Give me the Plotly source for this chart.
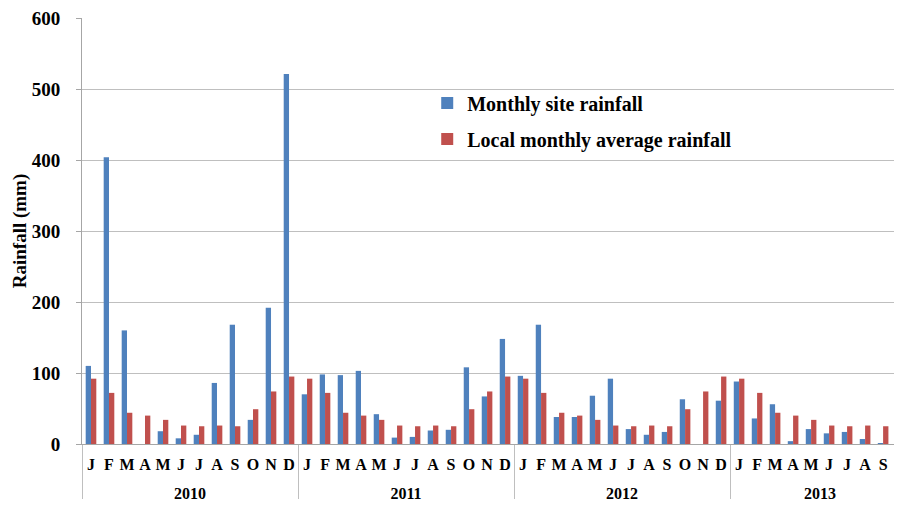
import plotly.graph_objects as go

LBL = 16  # visible size of the category labels


def _month(letter, n):
    # second (blank) line adds height under the month row; differing blank
    # counts keep repeated initials (J, M, A) distinct categories
    return ('<span style="font-size:%dpx">%s</span><br>%s'
            % (LBL, letter, "\u00a0" * n))


def _year(y):
    return '<span style="font-size:%dpx">%s</span>' % (LBL, y)


month_initials = [_month("J", 1), _month("F", 1), _month("M", 1), _month("A", 1),
                  _month("M", 2), _month("J", 2), _month("J", 3), _month("A", 2),
                  _month("S", 1), _month("O", 1), _month("N", 1), _month("D", 1)]

years = ([_year("2010")] * 12 + [_year("2011")] * 12 + [_year("2012")] * 12
         + [_year("2013")] * 10)
months = month_initials * 3 + month_initials[:10]

site_rainfall = [
    110, 404, 160, 0, 18, 8, 13, 86, 168, 34, 192, 521,
    70, 98, 97, 103, 42, 9, 10, 19, 20, 108, 67, 148,
    96, 168, 38, 38, 68, 92, 21, 13, 17, 63, 0, 61,
    88, 36, 56, 4, 21, 15, 17, 7, 1, 38,
]
local_average = [
    92, 72, 44, 40, 34, 26, 25, 26, 25, 49, 74, 95,
    92, 72, 44, 40, 34, 26, 25, 26, 25, 49, 74, 95,
    92, 72, 44, 40, 34, 26, 25, 26, 25, 49, 74, 95,
    92, 72, 44, 40, 34, 26, 25, 26, 25, 49,
]

FONT = "Liberation Serif, Times New Roman, serif"
x = [years, months]

fig = go.Figure()
fig.add_trace(go.Bar(x=x, y=site_rainfall, name="Monthly site rainfall",
                     marker=dict(color="#4F81BD", line=dict(width=0)),
                     legendgroup="a"))
fig.add_trace(go.Bar(x=x, y=local_average, name="Local monthly average rainfall",
                     marker=dict(color="#C0504D", line=dict(width=0)),
                     legendgroup="b"))

# the page body has an 8px default margin on every side; keep the figure small
# enough that the page does not scroll
fig.update_layout(
    width=894, height=491,
    margin=dict(l=74, r=0, t=10, b=55),
    paper_bgcolor="white", plot_bgcolor="white",
    barmode="group", bargap=0.41, bargroupgap=0,
    font=dict(family=FONT, color="black"),
    showlegend=True,
    legend=dict(x=0.421, y=0.846, xanchor="left", yanchor="top",
                bgcolor="rgba(0,0,0,0)", tracegroupgap=7,
                font=dict(family=FONT, size=20, weight="bold", color="black"),
                itemwidth=30),
    xaxis=dict(
        type="multicategory",
        range=[-0.5, 45.05],
        tickmode="linear", tick0=0, dtick=1,
        automargin=False,
        showline=True, linecolor="#A6A6A6", linewidth=1,
        showgrid=False, ticks="", tickangle=0,
        ticklabelstandoff=8, ticklabeloverflow="allow",
        showdividers=True, dividercolor="#BFBFBF", dividerwidth=1,
        tickfont=dict(family=FONT, size=14, weight="bold", color="black"),
    ),
    yaxis=dict(
        range=[0, 600], dtick=100,
        automargin=False,
        showgrid=True, gridcolor="#BFBFBF", gridwidth=1,
        zeroline=False,
        showline=True, linecolor="#A6A6A6", linewidth=1,
        ticks="outside", ticklen=5, tickcolor="#A6A6A6",
        ticklabelstandoff=12, ticklabeloverflow="allow",
        tickfont=dict(family=FONT, size=19, weight="bold", color="black"),
        title=dict(text="Rainfall (mm)", standoff=0,
                   font=dict(family=FONT, size=19, weight="bold", color="black")),
    ),
)

fig.write_html("out.html")
